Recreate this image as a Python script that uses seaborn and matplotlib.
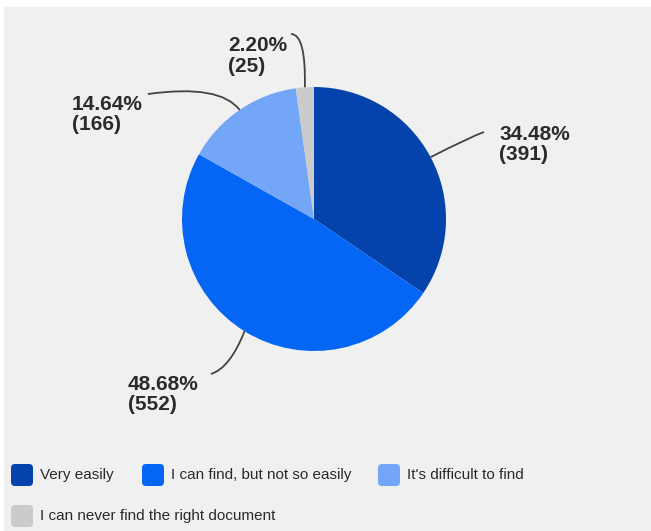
import numpy as np
import matplotlib
matplotlib.use("Agg")
import matplotlib.pyplot as plt
from matplotlib.patches import FancyBboxPatch, Rectangle
from matplotlib.path import Path
from matplotlib.patches import PathPatch
import seaborn as sns

# Survey answers: how easily do people find the document they need?
categories = [
    "Very easily",
    "I can find, but not so easily",
    "It's difficult to find",
    "I can never find the right document",
]
counts = [391, 552, 166, 25]
percent_labels = ["34.48%", "48.68%", "14.64%", "2.20%"]

sns.set_style("white")
plt.rcParams["font.family"] = ["Liberation Sans", "DejaVu Sans"]

colors = sns.color_palette(["#0343ab", "#0565f5", "#73a6f7", "#cbcbcb"])

W, H = 651, 531
fig = plt.figure(figsize=(W / 100, H / 100), dpi=100)
fig.patch.set_facecolor("white")

# pixel-space axes (y measured from the bottom)
ax = fig.add_axes([0, 0, 1, 1])
ax.set_xlim(0, W)
ax.set_ylim(0, H)
ax.axis("off")

# panel background
ax.add_patch(Rectangle((4, 0), W - 4, H - 7, facecolor="#f0f0f0",
                       edgecolor="none", zorder=0))

cx, cy, r = 314, H - 219, 132
wedges, _ = ax.pie(counts, colors=colors, startangle=90, counterclock=False,
                   center=(cx, cy), radius=r, frame=True,
                   wedgeprops=dict(linewidth=0))
ax.set_xlim(0, W)
ax.set_ylim(0, H)
ax.set_aspect("equal")
ax.axis("off")

# label anchors (text position, leader end point, leader control point)
label_layout = [
    dict(text=(499, H - 125), ha="left", end=(484, H - 132), ctrl=(470, H - 137)),
    dict(text=(128, H - 375), ha="left", end=(211, H - 374), ctrl=(230, H - 368)),
    dict(text=(72, H - 95), ha="left", end=(148, H - 94), ctrl=(220, H - 84)),
    dict(text=(228, H - 36), ha="left", end=(291, H - 34), ctrl=(306, H - 34)),
]

total = sum(counts)
start = 90.0
for val, pct, lay in zip(counts, percent_labels, label_layout):
    sweep = 360.0 * val / total
    mid = np.deg2rad(start - sweep / 2)
    start -= sweep
    edge = (cx + r * np.cos(mid), cy + r * np.sin(mid))
    path = Path([edge, lay["ctrl"], lay["end"]],
                [Path.MOVETO, Path.CURVE3, Path.CURVE3])
    ax.add_patch(PathPatch(path, facecolor="none", edgecolor="#444444",
                           linewidth=1.3, zorder=3))
    ax.text(lay["text"][0], lay["text"][1], f"{pct}\n({val})",
            ha=lay["ha"], va="top", fontsize=15, fontweight="bold",
            color="#2b2b2b", linespacing=1.1, zorder=4)

# legend
legend_pos = [(11, H - 475), (142, H - 475), (378, H - 475), (11, H - 516)]
for col, name, (lx, ly) in zip(colors, categories, legend_pos):
    ax.add_patch(FancyBboxPatch((lx + 2, ly - 9), 18, 18,
                                boxstyle="round,pad=2,rounding_size=4",
                                facecolor=col, edgecolor="none", zorder=3))
    ax.text(lx + 29, ly, name, ha="left", va="center", fontsize=11,
            color="#2a2a2a", zorder=4)

fig.savefig("out.png", dpi=100, facecolor=fig.get_facecolor())
